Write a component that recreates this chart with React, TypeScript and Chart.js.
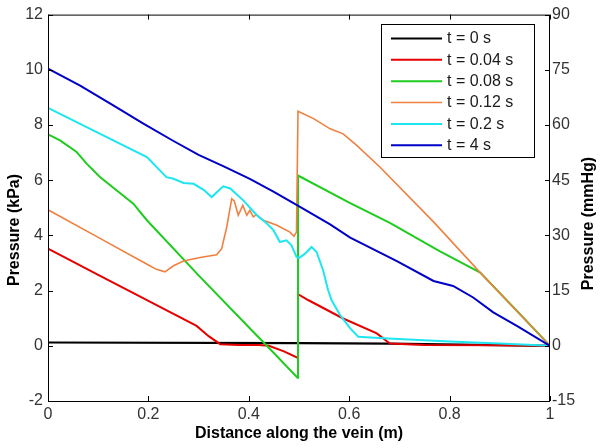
import React, { useEffect, useRef } from 'react';
import { Chart, registerables } from 'chart.js';

Chart.register(...registerables);

const FONT = '"Liberation Sans", Arial, Helvetica, sans-serif';

// ---- axis ranges / tick steps ----
const xRange = [0, 1];
const xStep = 0.2;
const kPaRange = [-2, 12];
const kPaStep = 2;
const mmHgRange = [-15, 90];
const mmHgStep = 15;

// ---- series ----
const seriesLabels = ['t = 0 s', 't = 0.04 s', 't = 0.08 s', 't = 0.12 s', 't = 0.2 s', 't = 4 s'];
const seriesColors = ['#000000', '#e60000', '#1fcc1f', '#f08040', '#1ee6f0', '#0000c8'];
const seriesWidths = [2.2, 2, 2, 1.6, 2, 2];

const t0X = [0, 0.5, 0.68, 1];
const t0Y = [0.12, 0.1, 0.08, 0];

const t004X = [0, 0.1, 0.2, 0.296, 0.32, 0.343, 0.38, 0.42, 0.44, 0.47, 0.497, 0.498, 0.519, 0.588, 0.655, 0.681, 0.75, 0.9, 1];
const t004Y = [3.52, 2.57, 1.63, 0.72, 0.35, 0.06, 0.03, 0.03, 0.0, -0.2, -0.43, 1.87, 1.65, 0.99, 0.45, 0.08, 0.03, 0.02, 0];

const t008X = [0, 0.024, 0.057, 0.077, 0.104, 0.137, 0.17, 0.197, 0.3, 0.4, 0.436, 0.497, 0.498, 0.6, 0.681, 0.78, 0.861, 0.93, 1];
const t008Y = [7.66, 7.44, 7.02, 6.6, 6.11, 5.63, 5.15, 4.55, 2.55, 0.67, 0.0, -1.16, 6.17, 5.19, 4.45, 3.43, 2.65, 1.34, 0];

const t012X = [0, 0.1, 0.2, 0.216, 0.233, 0.25, 0.27, 0.303, 0.336, 0.346, 0.356, 0.366, 0.371, 0.379, 0.388, 0.396, 0.402, 0.409, 0.415, 0.429, 0.456, 0.482, 0.49, 0.495, 0.498, 0.529, 0.562, 0.588, 0.615, 0.661, 0.768, 0.861, 1];
const t012Y = [4.93, 3.93, 2.93, 2.77, 2.68, 2.9, 3.07, 3.2, 3.3, 3.52, 4.3, 5.33, 5.25, 4.73, 5.09, 4.73, 4.91, 4.67, 4.75, 4.55, 4.37, 4.12, 3.97, 4.12, 8.5, 8.23, 7.86, 7.68, 7.26, 6.48, 4.49, 2.65, 0];

const t02X = [0, 0.104, 0.197, 0.236, 0.25, 0.27, 0.29, 0.31, 0.326, 0.349, 0.363, 0.389, 0.416, 0.436, 0.449, 0.462, 0.475, 0.485, 0.495, 0.5, 0.512, 0.525, 0.535, 0.548, 0.558, 0.565, 0.582, 0.602, 0.618, 0.668, 0.8, 0.9, 1];
const t02Y = [8.62, 7.68, 6.84, 6.11, 6.05, 5.9, 5.87, 5.65, 5.39, 5.78, 5.7, 5.27, 4.73, 4.43, 4.19, 3.76, 3.82, 3.64, 3.22, 3.18, 3.34, 3.58, 3.4, 2.74, 2.01, 1.65, 1.11, 0.63, 0.33, 0.27, 0.16, 0.08, 0];

const t4X = [0, 0.064, 0.13, 0.19, 0.25, 0.3, 0.35, 0.402, 0.45, 0.502, 0.562, 0.602, 0.695, 0.768, 0.807, 0.847, 0.887, 0.934, 1];
const t4Y = [10.04, 9.43, 8.71, 8.05, 7.42, 6.92, 6.5, 6.05, 5.58, 5.03, 4.4, 3.92, 3.07, 2.35, 2.17, 1.75, 1.21, 0.72, 0];

const seriesX = [t0X, t004X, t008X, t012X, t02X, t4X];
const seriesY = [t0Y, t004Y, t008Y, t012Y, t02Y, t4Y];

// ---- text ----
const xTitle = 'Distance along the vein (m)';
const yTitle = 'Pressure (kPa)';
const y2Title = 'Pressure (mmHg)';

const decorPlugin = {
  id: 'decor',
  afterDraw(chart: any) {
    const { ctx, chartArea: a, scales } = chart;
    ctx.save();
    // frame
    ctx.strokeStyle = '#000';
    ctx.lineWidth = 1;
    ctx.strokeRect(a.left + 0.5, a.top + 0.5, a.right - a.left - 1, a.bottom - a.top);
    // inward tick marks
    const L = 5;
    ctx.beginPath();
    scales.x.ticks.forEach((t: any) => {
      const px = Math.round(scales.x.getPixelForValue(t.value)) + 0.5;
      ctx.moveTo(px, a.bottom);
      ctx.lineTo(px, a.bottom - L);
      ctx.moveTo(px, a.top);
      ctx.lineTo(px, a.top + L);
    });
    scales.y.ticks.forEach((t: any) => {
      const py = Math.round(scales.y.getPixelForValue(t.value)) + 0.5;
      ctx.moveTo(a.left, py);
      ctx.lineTo(a.left + L, py);
    });
    scales.y2.ticks.forEach((t: any) => {
      const py = Math.round(scales.y2.getPixelForValue(t.value)) + 0.5;
      ctx.moveTo(a.right, py);
      ctx.lineTo(a.right - L, py);
    });
    ctx.stroke();

    // axis titles
    ctx.fillStyle = '#000';
    ctx.font = `bold 16px ${FONT}`;
    ctx.textAlign = 'center';
    ctx.textBaseline = 'alphabetic';
    ctx.fillText(xTitle, (a.left + a.right) / 2, 438);

    ctx.save();
    ctx.translate(18.5, 230);
    ctx.rotate(-Math.PI / 2);
    ctx.fillText(yTitle, 0, 0);
    ctx.restore();

    ctx.save();
    ctx.translate(593.3, 223.5);
    ctx.rotate(-Math.PI / 2);
    ctx.fillText(y2Title, 0, 0);
    ctx.restore();

    // legend
    const bx = 381.5, by = 24.5, bw = 153, bh = 133;
    ctx.fillStyle = '#fff';
    ctx.fillRect(bx, by, bw, bh);
    ctx.strokeStyle = '#000';
    ctx.lineWidth = 1;
    ctx.strokeRect(bx, by, bw, bh);
    ctx.font = `16px ${FONT}`;
    ctx.textAlign = 'left';
    ctx.textBaseline = 'middle';
    chart.data.datasets.forEach((ds: any, i: number) => {
      const ry = 38.5 + i * 21.35;
      ctx.strokeStyle = ds.borderColor;
      ctx.lineWidth = ds.borderWidth;
      ctx.beginPath();
      ctx.moveTo(391, ry);
      ctx.lineTo(442, ry);
      ctx.stroke();
      ctx.fillStyle = '#1a1a1a';
      ctx.fillText(ds.label, 447, ry + 0.5);
    });
    ctx.restore();
  },
};

export default function App() {
  const ref = useRef<HTMLCanvasElement | null>(null);

  useEffect(() => {
    document.body.style.margin = '0';
    const canvas = ref.current;
    if (!canvas) return;
    const datasets = seriesLabels.map((label, i) => ({
      label,
      data: seriesX[i].map((x, j) => ({ x, y: seriesY[i][j] })),
      borderColor: seriesColors[i],
      backgroundColor: seriesColors[i],
      borderWidth: seriesWidths[i],
      pointRadius: 0,
      tension: 0,
      fill: false,
      yAxisID: 'y',
      order: seriesLabels.length - 1 - i,
    }));
    const tickFont = { family: FONT, size: 16 };
    const chart = new Chart(canvas, {
      type: 'line',
      data: { datasets },
      options: {
        animation: false,
        responsive: false,
        maintainAspectRatio: false,
        layout: { padding: { top: 14, left: 0, right: 0, bottom: 0 } },
        plugins: { legend: { display: false }, tooltip: { enabled: false } },
        scales: {
          x: {
            type: 'linear',
            position: 'bottom',
            min: xRange[0],
            max: xRange[1],
            grid: { display: false, drawTicks: false },
            border: { display: false },
            ticks: {
              stepSize: xStep,
              font: tickFont,
              color: '#333',
              padding: 4,
              maxRotation: 0,
              callback: (v: any) => String(Number(Number(v).toFixed(1))),
            },
            afterFit: (s: any) => {
              s.height = 47;
            },
          },
          y: {
            type: 'linear',
            position: 'left',
            min: kPaRange[0],
            max: kPaRange[1],
            grid: { display: false, drawTicks: false },
            border: { display: false },
            ticks: { stepSize: kPaStep, font: tickFont, color: '#333', padding: 5 },
            afterFit: (s: any) => {
              s.width = 48;
            },
          },
          y2: {
            type: 'linear',
            position: 'right',
            min: mmHgRange[0],
            max: mmHgRange[1],
            grid: { display: false, drawTicks: false },
            border: { display: false },
            ticks: { stepSize: mmHgStep, font: tickFont, color: '#333', padding: 2 },
            afterFit: (s: any) => {
              s.width = 50;
            },
          },
        },
      },
      plugins: [decorPlugin],
    } as any);
    return () => chart.destroy();
  }, []);

  return (
    <div style={{ width: 600, height: 448, background: '#fff' }}>
      <canvas ref={ref} width={600} height={448} />
    </div>
  );
}
